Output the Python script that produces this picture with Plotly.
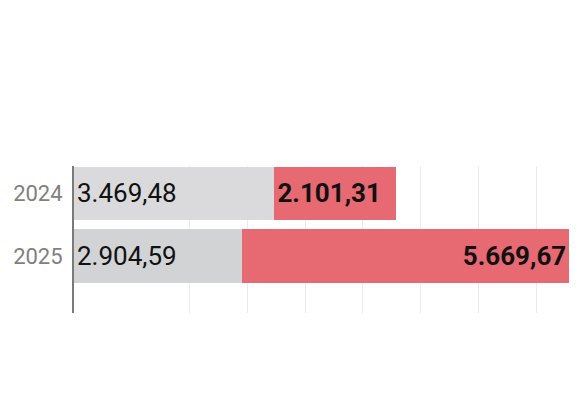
import plotly.graph_objects as go

years = ["2024", "2025"]
grey_values = [3469.48, 2904.59]
red_values = [2101.31, 5669.67]
grey_labels = ["3.469,48", "2.904,59"]
red_labels = ["2.101,31", "5.669,67"]
grid_ticks = [2000, 3000, 4000, 5000, 6000, 7000, 8000]

grey_colors = ["#dadadc", "#d2d3d5"]
red_color = "#e76971"

fig = go.Figure()
fig.add_trace(go.Bar(
    y=years, x=grey_values, orientation="h",
    marker=dict(color=grey_colors, line=dict(width=0)),
    text=grey_labels, textposition="inside", insidetextanchor="start",
    textfont=dict(family="Roboto", size=26, color="#111111"),
    width=0.856, hoverinfo="skip", showlegend=False,
))
anchors = ["start", "end"]
for i in range(len(years)):
    fig.add_trace(go.Bar(
        y=[years[i]], x=[red_values[i]], orientation="h",
        marker=dict(color=red_color, line=dict(width=0)),
        text=["<b>" + red_labels[i] + "</b>"], textposition="inside",
        insidetextanchor=anchors[i],
        textfont=dict(family="Roboto", size=26, color="#111111"),
        width=0.856, hoverinfo="skip", showlegend=False,
    ))

# page body has an 8px margin, so the figure is offset by 8px
fig.update_layout(
    barmode="stack",
    width=572, height=400,
    margin=dict(l=66, r=0, t=158, b=95),
    paper_bgcolor="white", plot_bgcolor="white",
    xaxis=dict(range=[0, 8760], tickvals=grid_ticks, showticklabels=False,
               showgrid=True, gridcolor="#ebebeb", gridwidth=1,
               zeroline=False, showline=False, fixedrange=True,
               automargin=False),
    yaxis=dict(type="category", categoryorder="array", categoryarray=years,
               range=[1.915, -0.437], showgrid=False, zeroline=False,
               showline=True, linecolor="#7a7a7a", linewidth=2,
               ticks="outside", ticklen=5, tickcolor="rgba(0,0,0,0)",
               tickfont=dict(family="Roboto", size=22, color="#7f7f7f"),
               fixedrange=True, automargin=False),
    uniformtext=dict(mode=False),
)
fig.write_html("out.html")
